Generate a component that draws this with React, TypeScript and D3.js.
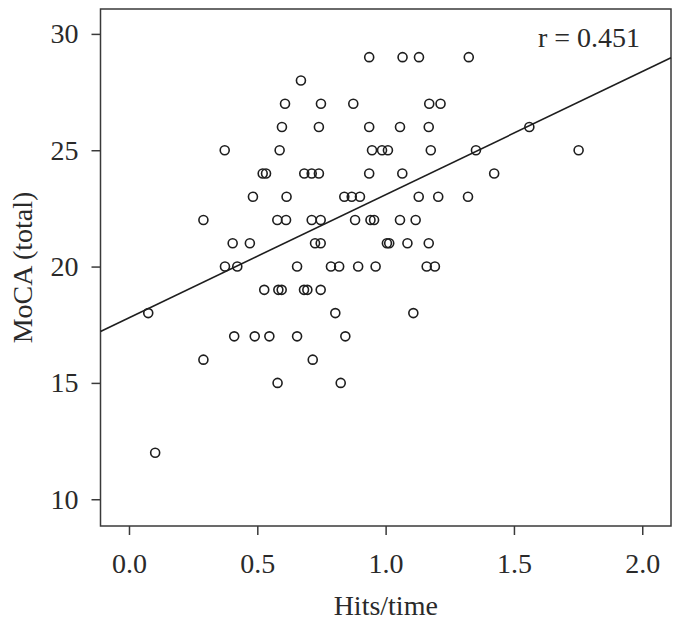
import React, { useEffect, useRef } from "react";
import * as d3 from "d3";

// Hits/time vs MoCA total score
const mocaTotal = [
  29, 29, 29, 29,
  28,
  27, 27, 27, 27, 27,
  26, 26, 26, 26, 26, 26,
  25, 25, 25, 25, 25, 25, 25, 25,
  24, 24, 24, 24, 24, 24, 24, 24,
  23, 23, 23, 23, 23, 23, 23, 23,
  22, 22, 22, 22, 22, 22, 22, 22, 22, 22,
  21, 21, 21, 21, 21, 21, 21, 21,
  20, 20, 20, 20, 20, 20, 20, 20, 20,
  19, 19, 19, 19, 19, 19,
  18, 18, 18,
  17, 17, 17, 17, 17,
  16, 16,
  15, 15,
  12,
];
const hitsPerTime = [
  0.936, 1.066, 1.13, 1.324,
  0.67,
  0.608, 0.748, 0.874, 1.17, 1.214,
  0.596, 0.74, 0.936, 1.056, 1.168, 1.56,
  0.373, 0.587, 0.947, 0.986, 1.009, 1.176, 1.352, 1.752,
  0.521, 0.534, 0.683, 0.712, 0.74, 0.936, 1.065, 1.423,
  0.483, 0.614, 0.839, 0.868, 0.9, 1.129, 1.205, 1.321,
  0.29, 0.578, 0.612, 0.712, 0.747, 0.881, 0.941, 0.955, 1.056, 1.117,
  0.404, 0.471, 0.725, 0.747, 1.005, 1.014, 1.085, 1.168,
  0.374, 0.422, 0.655, 0.787, 0.819, 0.893, 0.961, 1.16, 1.192,
  0.527, 0.582, 0.595, 0.682, 0.695, 0.747,
  0.075, 0.804, 1.108,
  0.41, 0.49, 0.547, 0.655, 0.843,
  0.29, 0.716,
  0.579, 0.825,
  0.102,
];

const xTicks = [0, 0.5, 1.0, 1.5, 2.0];
const yTicks = [10, 15, 20, 25, 30];

// fitted line: moca = intercept + slope * hits
const fitIntercept = 17.8;
const fitSlope = 5.29;
const rLabel = "r = 0.451";

const App = () => {
  const svgRef = useRef<SVGSVGElement>(null);

  useEffect(() => {
    const svg = d3.select(svgRef.current);
    svg.selectAll("*").remove();

    const left = 100.5;
    const right = 671;
    const top = 9;
    const bottom = 526;
    const font = "'Liberation Serif', 'Times New Roman', serif";
    const fontSize = 28;
    const ink = "#2a2a2a";

    const x = d3.scaleLinear().domain([-0.111, 2.112]).range([left, right]);
    const y = d3.scaleLinear().domain([8.85, 31.07]).range([bottom, top]);

    // frame
    svg
      .append("rect")
      .attr("x", left)
      .attr("y", top)
      .attr("width", right - left)
      .attr("height", bottom - top)
      .attr("fill", "none")
      .attr("stroke", "#3a3a3a")
      .attr("stroke-width", 1.5);

    // x axis
    const xAxis = svg
      .append("g")
      .attr("transform", `translate(0,${bottom})`)
      .call(
        d3
          .axisBottom(x)
          .tickValues(xTicks)
          .tickFormat(d3.format(".1f"))
          .tickSize(9)
          .tickPadding(18)
      );
    xAxis.select(".domain").remove();
    xAxis.selectAll("line").attr("stroke", "#3a3a3a").attr("stroke-width", 1.5);
    xAxis
      .selectAll("text")
      .attr("font-family", font)
      .attr("font-size", fontSize)
      .attr("fill", ink);

    // y axis
    const yAxis = svg
      .append("g")
      .attr("transform", `translate(${left},0)`)
      .call(d3.axisLeft(y).tickValues(yTicks).tickSize(9).tickPadding(13));
    yAxis.select(".domain").remove();
    yAxis.selectAll("line").attr("stroke", "#3a3a3a").attr("stroke-width", 1.5);
    yAxis
      .selectAll("text")
      .attr("font-family", font)
      .attr("font-size", fontSize)
      .attr("fill", ink);

    // axis titles
    svg
      .append("text")
      .attr("x", (left + right) / 2)
      .attr("y", 615)
      .attr("text-anchor", "middle")
      .attr("font-family", font)
      .attr("font-size", fontSize)
      .attr("fill", ink)
      .text("Hits/time");

    svg
      .append("text")
      .attr("transform", `translate(32,${(top + bottom) / 2}) rotate(-90)`)
      .attr("text-anchor", "middle")
      .attr("font-family", font)
      .attr("font-size", fontSize)
      .attr("fill", ink)
      .text("MoCA (total)");

    // regression line across the frame
    const xs = x.domain();
    svg
      .append("line")
      .attr("x1", x(xs[0]))
      .attr("y1", y(fitIntercept + fitSlope * xs[0]))
      .attr("x2", x(xs[1]))
      .attr("y2", y(fitIntercept + fitSlope * xs[1]))
      .attr("stroke", "#1e1e1e")
      .attr("stroke-width", 1.6);

    // points
    svg
      .append("g")
      .selectAll("circle")
      .data(hitsPerTime)
      .enter()
      .append("circle")
      .attr("cx", (d) => x(d))
      .attr("cy", (d, i) => y(mocaTotal[i]))
      .attr("r", 4.5)
      .attr("fill", "none")
      .attr("stroke", "#1e1e1e")
      .attr("stroke-width", 1.6);

    // correlation label
    svg
      .append("text")
      .attr("x", 640)
      .attr("y", 47)
      .attr("text-anchor", "end")
      .attr("font-family", font)
      .attr("font-size", fontSize)
      .attr("fill", ink)
      .text(rLabel);
  }, []);

  return (
    <svg
      ref={svgRef}
      width={680}
      height={632}
      style={{ position: "absolute", left: 0, top: 0, background: "#fff" }}
    ></svg>
  );
};

export default App;
